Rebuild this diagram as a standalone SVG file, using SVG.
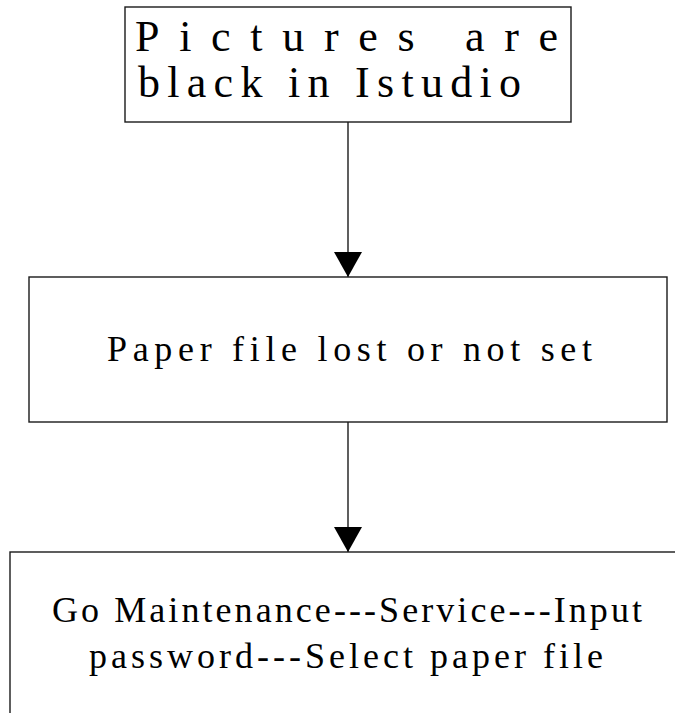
<svg xmlns="http://www.w3.org/2000/svg" width="675" height="713" viewBox="0 0 675 713">
<style>
  .box { fill: #fff; stroke: #1a1a1a; stroke-width: 1.4; }
  .t { font-family: "Liberation Serif", "Noto Sans CJK SC", serif; fill: #000; }
  .conn { stroke: #1a1a1a; stroke-width: 1.4; fill: none; }
</style>
<defs>
  <marker id="ah" viewBox="0 -14 25 28" refX="25" refY="0" markerWidth="25" markerHeight="28" markerUnits="userSpaceOnUse" orient="auto">
    <path d="M0,-14 L25,0 L0,14 Z" fill="#000"/>
  </marker>
</defs>
<rect width="675" height="713" fill="#fff"/>
<g id="connectors">
  <line class="conn" x1="348" y1="122" x2="348" y2="277" marker-end="url(#ah)"/>
  <line class="conn" x1="348" y1="422" x2="348" y2="552" marker-end="url(#ah)"/>
</g>
<g id="node1">
  <rect class="box" x="125" y="7" width="446" height="115"/>
  <text class="t" x="135" y="51" font-size="44" textLength="423" lengthAdjust="spacing">Pictures are</text>
  <text class="t" x="138" y="97" font-size="44" textLength="383" lengthAdjust="spacing">black in Istudio</text>
</g>
<g id="node2">
  <rect class="box" x="29" y="277" width="638" height="145"/>
  <text class="t" x="107" y="361" font-size="36" textLength="485" lengthAdjust="spacing">Paper file lost or not set</text>
</g>
<g id="node3">
  <rect class="box" x="10" y="552" width="700" height="200"/>
  <text class="t" x="52" y="622" font-size="36" textLength="590" lengthAdjust="spacing">Go Maintenance---Service---Input</text>
  <text class="t" x="89" y="668" font-size="36" textLength="514" lengthAdjust="spacing">password---Select paper file</text>
</g>
</svg>
